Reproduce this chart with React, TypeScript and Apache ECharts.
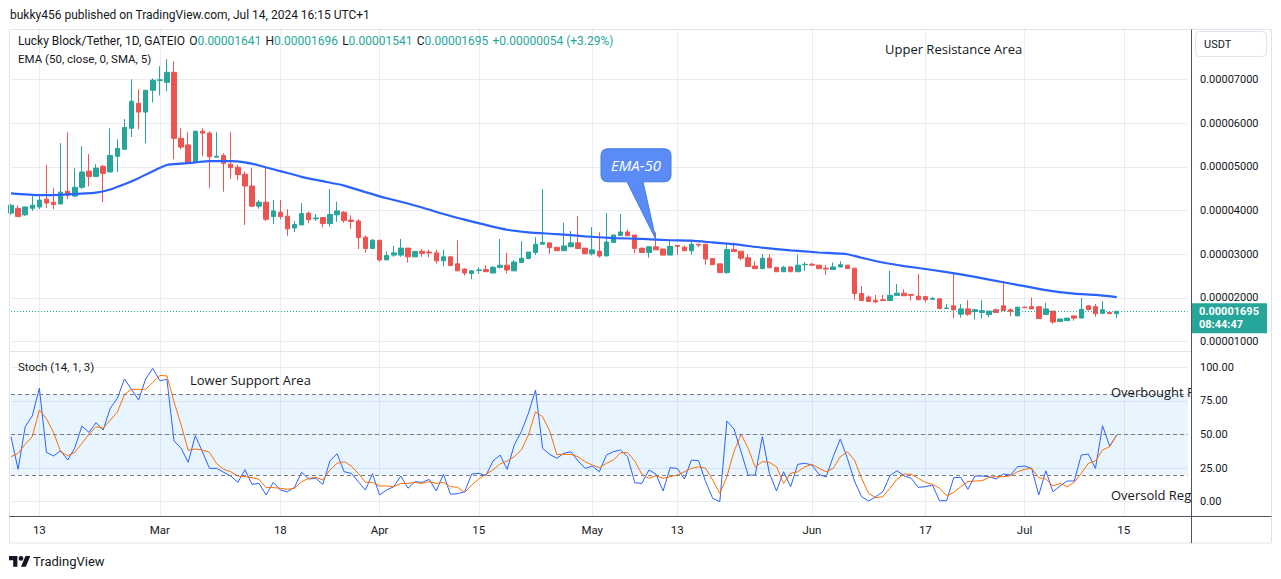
import React, { useEffect, useRef } from 'react';
import * as echarts from 'echarts';

// ---------- data ----------
const FIRST_DAY = Date.UTC(2024, 1, 9); // Feb 9, 2024
const DAY_MS = 86400000;
const CATEGORY_COUNT = 167; // candles + empty days to the right

const TICK_LABELS: Record<string, string> = {
  '2024-02-13': '13', '2024-03-01': 'Mar', '2024-03-18': '18', '2024-04-01': 'Apr',
  '2024-04-15': '15', '2024-05-01': 'May', '2024-05-13': '13', '2024-06-01': 'Jun',
  '2024-06-17': '17', '2024-07-01': 'Jul', '2024-07-15': '15',
};

const PRICE_UNIT = 1e-5;

const OPEN = [
  3.94, 4.05, 3.90, 4.05, 4.08, 4.26, 4.19, 4.15, 4.44, 4.33,
  4.53, 4.90, 4.78, 5.01, 4.88, 5.24, 5.40, 5.88, 6.45, 6.25,
  6.75, 6.97, 6.93, 7.16, 5.65, 5.50, 5.11, 5.81, 5.77, 5.22,
  5.26, 5.06, 4.99, 4.83, 4.56, 4.10, 4.19, 3.86, 3.96, 3.87,
  3.60, 3.67, 3.94, 3.81, 3.84, 3.70, 3.90, 3.96, 3.78, 3.76,
  3.39, 3.13, 3.32, 2.87, 2.98, 2.98, 3.14, 2.94, 3.07, 3.05,
  3.03, 2.85, 2.94, 2.78, 2.66, 2.56, 2.63, 2.65, 2.57, 2.70,
  2.75, 2.62, 2.81, 2.90, 3.04, 3.23, 3.26, 3.16, 3.08, 3.17,
  3.26, 3.14, 3.01, 3.07, 2.96, 3.27, 3.43, 3.51, 3.44, 3.14,
  3.04, 3.17, 3.12, 2.98, 3.20, 3.16, 3.08, 3.23, 3.23, 2.90,
  2.78, 2.58, 3.11, 3.07, 2.92, 2.73, 2.67, 2.91, 2.70, 2.60,
  2.71, 2.60, 2.76, 2.77, 2.75, 2.68, 2.65, 2.71, 2.75, 2.68,
  2.10, 2.02, 1.95, 1.96, 1.94, 2.06, 2.11, 2.08, 2.04, 2.03,
  1.97, 1.98, 1.76, 1.82, 1.63, 1.75, 1.69, 1.67, 1.62, 1.73,
  1.82, 1.73, 1.59, 1.79, 1.80, 1.80, 1.62, 1.70, 1.46, 1.48,
  1.59, 1.54, 1.82, 1.80, 1.65, 1.67, 1.641,
];
const HIGH = [
  4.15, 4.12, 4.09, 4.33, 4.33, 5.04, 4.51, 5.54, 5.79, 4.97,
  5.47, 5.29, 5.06, 5.04, 5.88, 5.63, 6.09, 7.00, 6.77, 6.75,
  7.02, 7.30, 7.46, 7.41, 5.88, 5.79, 5.83, 5.88, 5.81, 5.79,
  5.31, 5.79, 5.05, 4.89, 4.97, 4.24, 5.01, 4.24, 4.24, 4.03,
  3.76, 4.17, 3.97, 3.92, 3.84, 4.49, 4.20, 3.99, 3.89, 3.80,
  3.43, 3.35, 3.32, 3.06, 3.19, 3.35, 3.14, 3.08, 3.12, 3.10,
  3.10, 3.11, 2.96, 3.32, 2.68, 2.64, 2.70, 2.75, 2.73, 3.35,
  3.03, 2.87, 3.30, 3.05, 3.39, 4.49, 3.26, 3.16, 3.72, 3.53,
  3.87, 3.14, 3.62, 3.50, 3.94, 3.44, 3.92, 3.57, 3.44, 3.14,
  3.18, 3.50, 3.12, 3.30, 3.20, 3.20, 3.29, 3.23, 3.23, 2.90,
  2.78, 3.25, 3.27, 3.07, 3.00, 2.84, 3.00, 3.00, 2.70, 2.73,
  2.71, 2.99, 2.82, 2.80, 2.75, 2.75, 2.81, 2.84, 2.75, 2.68,
  2.27, 2.06, 2.07, 2.07, 2.62, 2.32, 2.20, 2.08, 2.55, 2.05,
  2.02, 2.00, 1.86, 2.59, 1.86, 1.95, 1.75, 1.95, 1.70, 1.76,
  2.39, 1.76, 1.79, 1.80, 2.01, 1.80, 1.89, 1.70, 1.52, 1.54,
  1.59, 2.00, 1.84, 1.86, 1.93, 1.70, 1.696,
];
const LOW = [
  3.90, 3.86, 3.87, 3.99, 4.03, 4.06, 4.03, 4.15, 4.26, 4.31,
  4.49, 4.55, 4.78, 4.19, 4.88, 4.88, 5.40, 5.68, 5.86, 5.54,
  6.47, 6.63, 6.73, 5.17, 5.40, 5.08, 5.10, 5.24, 4.52, 5.22,
  4.43, 4.72, 4.69, 3.67, 4.08, 4.04, 3.76, 3.69, 3.80, 3.42,
  3.51, 3.67, 3.71, 3.76, 3.61, 3.63, 3.74, 3.72, 3.58, 3.12,
  3.03, 3.13, 2.83, 2.87, 2.94, 2.94, 2.81, 2.94, 2.94, 2.93,
  2.79, 2.72, 2.74, 2.62, 2.51, 2.43, 2.55, 2.60, 2.57, 2.67,
  2.56, 2.62, 2.81, 2.90, 2.98, 3.23, 3.01, 3.08, 3.08, 3.17,
  3.13, 3.00, 2.97, 2.92, 2.96, 3.26, 3.43, 3.42, 3.02, 3.03,
  2.92, 3.10, 2.98, 2.98, 2.99, 3.08, 2.99, 3.16, 2.76, 2.76,
  2.58, 2.55, 3.06, 2.86, 2.72, 2.67, 2.67, 2.69, 2.60, 2.60,
  2.60, 2.60, 2.62, 2.73, 2.67, 2.53, 2.65, 2.69, 2.67, 1.96,
  1.94, 1.92, 1.88, 1.94, 1.94, 2.06, 2.05, 1.94, 1.96, 1.89,
  1.97, 1.76, 1.76, 1.54, 1.55, 1.59, 1.51, 1.53, 1.56, 1.67,
  1.71, 1.58, 1.59, 1.78, 1.75, 1.53, 1.62, 1.41, 1.46, 1.48,
  1.48, 1.54, 1.73, 1.57, 1.63, 1.63, 1.541,
];
const CLOSE = [
  4.12, 3.86, 4.08, 4.12, 4.24, 4.17, 4.14, 4.42, 4.35, 4.53,
  4.88, 4.78, 4.97, 4.85, 5.26, 5.42, 5.90, 6.50, 6.25, 6.75,
  6.98, 6.99, 7.16, 5.65, 5.45, 5.10, 5.81, 5.77, 5.23, 5.24,
  5.08, 4.98, 4.82, 4.56, 4.10, 4.19, 3.80, 3.99, 3.86, 3.58,
  3.68, 3.93, 3.79, 3.83, 3.70, 3.91, 3.99, 3.77, 3.75, 3.38,
  3.13, 3.32, 2.87, 2.97, 3.03, 3.14, 2.94, 3.06, 3.02, 3.03,
  2.85, 2.94, 2.74, 2.62, 2.57, 2.62, 2.64, 2.60, 2.70, 2.75,
  2.64, 2.82, 2.91, 3.05, 3.23, 3.27, 3.15, 3.08, 3.19, 3.26,
  3.13, 3.01, 3.10, 2.96, 3.28, 3.44, 3.51, 3.42, 3.13, 3.04,
  3.17, 3.10, 2.98, 3.18, 3.18, 3.08, 3.23, 3.21, 2.89, 2.76,
  2.58, 3.11, 3.06, 2.91, 2.72, 2.67, 2.91, 2.69, 2.60, 2.70,
  2.60, 2.75, 2.77, 2.75, 2.67, 2.66, 2.71, 2.76, 2.67, 2.10,
  1.94, 1.92, 1.91, 1.94, 2.06, 2.11, 2.05, 2.06, 1.96, 1.96,
  1.99, 1.76, 1.77, 1.73, 1.75, 1.63, 1.73, 1.71, 1.70, 1.67,
  1.71, 1.69, 1.79, 1.78, 1.75, 1.53, 1.75, 1.45, 1.52, 1.54,
  1.54, 1.74, 1.73, 1.64, 1.73, 1.641, 1.695,
];

// EMA (50, close, 0, SMA, 5) read at sampled candles
const EMA_INDEX = [0, 4, 8, 12, 14, 16, 18, 20, 22, 24, 26, 28, 31, 33, 35, 38, 41, 44, 47, 50, 53, 55, 58, 61, 64, 67, 70, 73, 77, 81, 85, 89, 93, 96, 99, 102, 106, 110, 114, 118, 120, 123, 126, 130, 134, 138, 142, 146, 150, 153, 156];
const EMA_VALUE = [4.39, 4.35, 4.37, 4.41, 4.48, 4.60, 4.74, 4.90, 5.04, 5.07, 5.10, 5.13, 5.13, 5.10, 5.03, 4.90, 4.77, 4.67, 4.57, 4.42, 4.28, 4.20, 4.07, 3.92, 3.79, 3.67, 3.56, 3.50, 3.46, 3.41, 3.37, 3.35, 3.32, 3.31, 3.27, 3.23, 3.15, 3.09, 3.04, 3.00, 2.92, 2.81, 2.73, 2.64, 2.54, 2.42, 2.30, 2.18, 2.10, 2.07, 2.02];

// Stoch (14, 1, 3)
const STOCH_K = [
  48.4, 24.1, 55.8, 63.8, 84.4, 36.7, 34, 38, 31, 40,
  56.3, 51.6, 58.8, 53.3, 69.5, 76.9, 91.3, 83.6, 75.7, 91.3,
  99.2, 90, 91, 45.2, 39.7, 29.3, 49.1, 37.2, 24.8, 24.8,
  21.9, 19.1, 14.4, 23.8, 12.9, 13.6, 5, 14.4, 8.7, 7.4,
  10.7, 21.9, 16.9, 17.4, 12.9, 30.5, 35.7, 22.3, 21.1, 14.9,
  8.7, 20.8, 5, 8.7, 11.2, 19.1, 10, 14.9, 14.4, 16.6,
  8, 20.4, 5.5, 6, 7.4, 20.6, 21.1, 19.4, 30.3, 34.7,
  24.1, 42.2, 52.1, 65.8, 83.1, 39.7, 35.2, 32.3, 36, 37.2,
  30.3, 24.8, 26.5, 22.3, 34.7, 37.2, 38.5, 33.5, 14.1, 13.6,
  23.6, 20.4, 8, 25.3, 24.8, 16.9, 31, 30.5, 14.9, 2.5,
  0, 60, 54.1, 37.2, 19.8, 19.8, 48.4, 21.1, 8, 22.3,
  11.2, 27.8, 28.6, 27.3, 20.4, 18.4, 33.5, 46.6, 32.3, 15.4,
  3.7, 0.5, 3.7, 7.4, 19.3, 23, 19.3, 17.4, 10.7, 11.2,
  12.4, 0.7, 0.7, 17.9, 18.1, 9.2, 19.1, 19.1, 18.6, 16.9,
  20.6, 19.8, 26, 26.5, 24.8, 5, 23, 7.4, 11.7, 15.4,
  15.4, 34.7, 35.5, 24.8, 56.5, 41.4, 49.6,
];
const STOCH_D = [
  33.5, 36, 42.7, 48.4, 68.2, 61.8, 51.6, 37.2, 34.2, 36.7,
  43.4, 50.3, 55.8, 54.6, 60.7, 66.5, 79.8, 83.6, 83.6, 83.6,
  88.8, 93.9, 93.6, 74.4, 57.1, 38.2, 39.2, 38.5, 36.7, 28.4,
  24.1, 22.3, 19.1, 18.6, 17.9, 16.6, 10.5, 10.5, 10, 9.2,
  10, 14.9, 17.4, 18.1, 16.1, 23.6, 28.6, 29.8, 26.5, 21.1,
  14.4, 14.4, 11.7, 11.7, 11.2, 13.6, 13.6, 14.4, 13.6, 14.9,
  13.6, 14.4, 11.2, 10.7, 6.9, 12.4, 16.9, 20.4, 23.6, 28.1,
  30.3, 33.5, 38.5, 49.6, 66.9, 63.2, 52.6, 35.2, 35.2, 35.2,
  33.5, 29.8, 27.3, 25.3, 28.6, 31, 36.5, 36.5, 30.3, 20.4,
  17.4, 19.3, 17.4, 18.6, 19.8, 22.3, 24.8, 26, 24.8, 16.1,
  6.2, 18.6, 37.2, 50.3, 39.7, 25.6, 29.8, 29.3, 26, 13.6,
  21.1, 22.3, 26, 27.8, 24.8, 22.3, 24.8, 33.5, 37.2, 31,
  17.4, 6.2, 3, 3.7, 10, 16.6, 20.6, 20.4, 17.4, 14.4,
  12.9, 10, 4.5, 6.9, 11.2, 14.9, 15.4, 15.6, 18.1, 18.6,
  18.6, 19.3, 22.3, 24.1, 24.8, 17.9, 16.9, 11.7, 13.6, 11.2,
  14.4, 21.1, 28.6, 30.3, 38.5, 40.9, 49.6,
];
const STOCH_LEVELS = [80, 50, 20];

const HEADER = 'bukky456 published on TradingView.com, Jul 14, 2024 16:15 UTC+1';
const SYMBOL_TITLE = 'Lucky Block/Tether, 1D, GATEIO';
const EMA_TITLE = 'EMA (50, close, 0, SMA, 5)';
const STOCH_TITLE = 'Stoch (14, 1, 3)';
const COUNTDOWN = '08:44:47';
const CALLOUT_INDEX = 91;
const CALLOUT_PRICE = 3.33;

// ---------- style ----------
const FONT = 'Roboto, "Noto Sans", "DejaVu Sans", sans-serif';
const ANNOT_FONT = '"Open Sans", Roboto, sans-serif';
const TEXT = '#131722';
const GRID_COLOR = '#e9edf3';
const UP = '#26a69a';
const DOWN = '#ef5350';
const LEFT = 11;
const STEP = 7.088;
const WIDTH = STEP * (CATEGORY_COUNT - 1);
const AXIS_X = 1191;
const AXIS_OFFSET = AXIS_X - (LEFT + WIDTH);

echarts.graphic.registerShape(
  'emaCallout',
  echarts.graphic.extendPath('M-48 -91H8Q15 -91 15 -84V-65Q15 -58 8 -58H-13L0 0L-29 -58H-48Q-55 -58 -55 -65V-84Q-55 -91 -48 -91Z', {})
);
echarts.graphic.registerShape(
  'tvLogo',
  echarts.graphic.extendPath('M14 22H7V11H0V4h14v18zM28 22h-8l7.5-18h8L28 22zM24 8a4 4 0 1 1-8 0a4 4 0 0 1 8 0z', {})
);

const fmtPrice = (v: number) => (v * PRICE_UNIT).toFixed(8);

export default function App() {
  const ref = useRef<HTMLDivElement>(null);
  useEffect(() => {
    document.body.style.margin = '0';
    if (!ref.current) return;
    const chart = echarts.init(ref.current, null, { renderer: 'svg' });

    const dates: string[] = [];
    for (let k = 0; k < CATEGORY_COUNT; k++) {
      dates.push(new Date(FIRST_DAY + k * DAY_MS).toISOString().slice(0, 10));
    }
    const isTick = (_i: number, v: string) => v in TICK_LABELS;
    const candleData = OPEN.map((o, i) => [o, CLOSE[i], LOW[i], HIGH[i]]);
    const emaData: (number | null)[] = OPEN.map(() => null);
    EMA_INDEX.forEach((idx, j) => { emaData[idx] = EMA_VALUE[j]; });
    const last = CLOSE.length - 1;

    chart.setOption({
      animation: false,
      backgroundColor: '#ffffff',
      textStyle: { fontFamily: FONT },
      grid: [
        { left: LEFT, top: 30, width: WIDTH, height: 486 },
        { left: LEFT, top: 79.3, width: WIDTH, height: 262.4 },
        { left: LEFT, top: 367.3, width: WIDTH, height: 134.4 },
      ],
      xAxis: [
        {
          type: 'category', gridIndex: 0, data: dates, boundaryGap: false,
          axisLine: { show: false }, axisTick: { show: false },
          axisLabel: { interval: isTick, formatter: (v: string) => TICK_LABELS[v] || '', color: TEXT, fontSize: 11.5, margin: 8 },
          splitLine: { show: true, interval: isTick, lineStyle: { color: GRID_COLOR, width: 1 } },
        },
        { type: 'category', gridIndex: 1, data: dates, boundaryGap: false, show: false },
        { type: 'category', gridIndex: 2, data: dates, boundaryGap: false, show: false },
      ],
      yAxis: [
        { type: 'value', gridIndex: 0, show: false, min: 0, max: 1 },
        {
          type: 'value', gridIndex: 1, position: 'right', offset: AXIS_OFFSET, min: 1, max: 7, interval: 1,
          axisLine: { show: false }, axisTick: { show: false },
          axisLabel: { formatter: (v: number) => fmtPrice(v), color: TEXT, fontSize: 11, margin: 9 },
          splitLine: { show: true, lineStyle: { color: GRID_COLOR } },
        },
        {
          type: 'value', gridIndex: 2, position: 'right', offset: AXIS_OFFSET, min: 0, max: 100, interval: 25,
          axisLine: { show: false }, axisTick: { show: false },
          axisLabel: { formatter: (v: number) => v.toFixed(2), color: TEXT, fontSize: 11, margin: 9 },
          splitLine: { show: true, lineStyle: { color: GRID_COLOR } },
        },
      ],
      series: [
        {
          type: 'candlestick', xAxisIndex: 1, yAxisIndex: 1, data: candleData, barWidth: 5, clip: false,
          itemStyle: { color: UP, color0: DOWN, borderColor: UP, borderColor0: DOWN, borderWidth: 1 },
          markLine: {
            silent: true, symbol: 'none', label: { show: false },
            lineStyle: { color: UP, type: [1, 2], width: 1 },
            data: [{ yAxis: CLOSE[last] }],
          },
        },
        {
          type: 'line', xAxisIndex: 1, yAxisIndex: 1, data: emaData, connectNulls: true, smooth: 0.2,
          showSymbol: false, symbol: 'none', clip: false, lineStyle: { color: '#2962ff', width: 2.2 }, z: 3,
        },
        {
          type: 'line', xAxisIndex: 2, yAxisIndex: 2, data: STOCH_K, showSymbol: false, symbol: 'none',
          lineStyle: { color: '#2962ff', width: 1 },
          markLine: {
            silent: true, symbol: 'none', label: { show: false },
            lineStyle: { color: '#787b86', type: [4, 3], width: 1 },
            data: STOCH_LEVELS.map((v) => ({ yAxis: v })),
          },
          markArea: {
            silent: true, itemStyle: { color: 'rgba(33,150,243,0.1)' },
            data: [[{ yAxis: STOCH_LEVELS[2] }, { yAxis: STOCH_LEVELS[0] }]],
          },
        },
        {
          type: 'line', xAxisIndex: 2, yAxisIndex: 2, data: STOCH_D, showSymbol: false, symbol: 'none',
          lineStyle: { color: '#ff6d00', width: 1 },
        },
      ],
    });

    const priceY = chart.convertToPixel({ yAxisIndex: 1 }, CLOSE[last]) as number;
    const tip = chart.convertToPixel({ gridIndex: 1 }, [CALLOUT_INDEX, CALLOUT_PRICE]) as number[];
    const chg = CLOSE[last] - CLOSE[last - 1];
    const pct = (chg / CLOSE[last - 1]) * 100;

    const txt = (x: number, y: number, text: string, extra: any = {}) => ({
      type: 'text', x, y, z: 100,
      style: { text, fill: TEXT, fontSize: 12, fontFamily: FONT, verticalAlign: 'middle', align: 'left', ...extra },
    });
    const gap = '{g|}';

    chart.setOption({
      graphic: [
        { type: 'rect', z: 50, shape: { x: 9.5, y: 29.5, width: 1262, height: 513.5 }, style: { fill: 'none', stroke: '#e0e3eb', lineWidth: 1 } },
        { type: 'line', z: 50, shape: { x1: 9.5, y1: 351.5, x2: AXIS_X, y2: 351.5 }, style: { stroke: '#e0e3eb', lineWidth: 1 } },
        txt(10, 15, HEADER, { fontSize: 12 }),
        {
          type: 'text', x: 18, y: 41, z: 100,
          style: {
            text: `{t|${SYMBOL_TITLE}}${gap}{k|O}{v|${fmtPrice(OPEN[last])}}${gap}{k|H}{v|${fmtPrice(HIGH[last])}}${gap}{k|L}{v|${fmtPrice(LOW[last])}}${gap}{k|C}{v|${fmtPrice(CLOSE[last])}}${gap}{v|+${fmtPrice(chg)} (+${pct.toFixed(2)}%)}`,
            verticalAlign: 'middle', fontFamily: FONT, fontSize: 12,
            rich: {
              t: { fill: TEXT, fontSize: 12, fontFamily: FONT },
              k: { fill: TEXT, fontSize: 12, fontFamily: FONT },
              v: { fill: UP, fontSize: 12, fontFamily: FONT },
              g: { width: 4.2 },
            },
          },
        },
        txt(18, 59, EMA_TITLE, { fontSize: 11.5 }),
        txt(18, 367, STOCH_TITLE, { fontSize: 11.5 }),
        txt(885, 49, 'Upper Resistance Area', { fontSize: 13, fontFamily: ANNOT_FONT }),
        txt(190, 380, 'Lower Support Area', { fontSize: 13, fontFamily: ANNOT_FONT }),
        txt(1111, 392, 'Overbought Region', { fontSize: 13, fontFamily: ANNOT_FONT, width: 88, overflow: 'truncate', ellipsis: '' }),
        txt(1111, 495, 'Oversold Region', { fontSize: 13, fontFamily: ANNOT_FONT, width: 88, overflow: 'truncate', ellipsis: '' }),
        // mask: annotation text is clipped at the price scale
        { type: 'rect', z: 105, shape: { x: AXIS_X + 1, y: 382, width: 8, height: 20 }, style: { fill: '#ffffff' } },
        { type: 'rect', z: 105, shape: { x: AXIS_X + 1, y: 485, width: 8, height: 20 }, style: { fill: '#ffffff' } },
        { type: 'line', z: 106, shape: { x1: AXIS_X + 0.5, y1: 29.5, x2: AXIS_X + 0.5, y2: 543 }, style: { stroke: '#50535e', lineWidth: 1 } },
        { type: 'line', z: 106, shape: { x1: 9.5, y1: 516.5, x2: 1271.5, y2: 516.5 }, style: { stroke: '#50535e', lineWidth: 1 } },
        // USDT box
        { type: 'rect', z: 100, shape: { x: 1195.5, y: 31.5, width: 71, height: 25, r: 4 }, style: { fill: '#ffffff', stroke: '#e0e3eb', lineWidth: 1 } },
        txt(1204, 44, 'USDT', { fontSize: 11 }),
        // last price label
        { type: 'rect', z: 100, shape: { x: AXIS_X, y: priceY - 8, width: 76, height: 30 }, style: { fill: UP } },
        txt(1199, priceY, fmtPrice(CLOSE[last]), { fill: '#ffffff', fontSize: 11, fontWeight: 'bold' }),
        txt(1199, priceY + 13.5, COUNTDOWN, { fill: '#ffffff', fontSize: 11, fontWeight: 'bold' }),
        // EMA-50 callout
        { type: 'emaCallout', z: 110, x: tip[0], y: tip[1], style: { fill: '#5b8cf6', stroke: '#3f7de6', lineWidth: 1 } },
        { type: 'text', z: 111, x: tip[0] - 20, y: tip[1] - 74.5, style: { text: 'EMA-50', fill: '#ffffff', fontSize: 15, fontStyle: 'italic', fontWeight: 500, fontFamily: ANNOT_FONT, align: 'center', verticalAlign: 'middle' } },
        // TradingView logo
        { type: 'tvLogo', z: 100, x: 9, y: 553.6, scaleX: 0.6, scaleY: 0.6, style: { fill: TEXT } },
        txt(33, 561, 'TradingView', { fontSize: 13 }),
      ],
    });

    return () => chart.dispose();
  }, []);
  return <div ref={ref} style={{ width: 1281, height: 579 }} />;
}
